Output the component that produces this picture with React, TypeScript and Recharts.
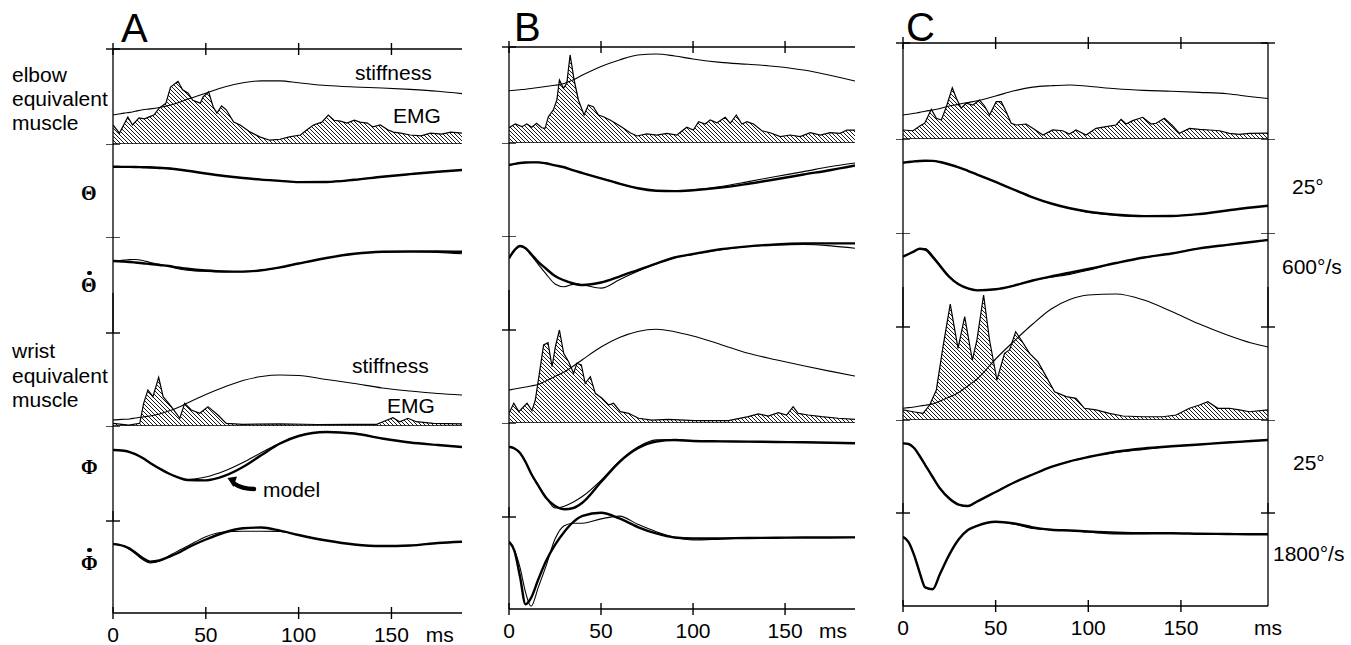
import React from "react";
import { ComposedChart, Line, Area, XAxis, YAxis, ReferenceLine } from "recharts";

const FONT = '"Liberation Sans", Arial, Helvetica, sans-serif';
const SERIF = '"Liberation Serif", "Times New Roman", serif';

// Every trace is expressed in % of its row height (100 = one scale bar:
// 25 deg for angles, 600 or 1800 deg/s for velocities, arbitrary for EMG/stiffness)

// time grid (ms) of the smooth traces
const T_AB = [0, 3, 6, 9, 12, 16, 20, 25, 30, 35, 40, 50, 60, 70, 80, 90, 100, 115, 130, 145, 160, 175, 188];
const T_C = [0, 3, 6, 9, 12, 16, 20, 25, 30, 35, 40, 50, 60, 70, 80, 90, 100, 115, 130, 145, 160, 175, 188, 197];

// ---------- A ----------
const A_ELB_STIFF = [30.5, 31.5, 32.5, 33.3, 34.5, 36, 37, 38.5, 40.5, 43.5, 47, 53.5, 60, 64.5, 66.5, 66.5, 64.5, 61.5, 60, 59, 57.5, 55.5, 53];
const A_ELB_EMG: [number, number][] = [
  [0, 20], [3.5, 11.5], [8, 28.5], [10.5, 20], [14, 27.5], [17, 26.5], [19.5, 28.5], [22, 30.5], [25, 38], [28.5, 43],
  [31, 60], [35, 66], [37.5, 57], [40.5, 53.5], [43, 46], [47, 43], [48.5, 49.5], [51.5, 55], [54, 39], [56, 32.5],
  [58.5, 40], [61, 36], [65, 23], [68.5, 20], [74, 12.5], [79, 7.5], [84.5, 4], [90, 5], [95, 7.5], [101, 9.5],
  [104.5, 15], [108, 20], [112.5, 23], [116, 30.5], [119, 25], [122.5, 24], [126, 22], [130, 25], [133, 23], [137, 22],
  [140, 18], [144, 20], [148, 15], [151, 12.5], [155, 11.5], [160, 9.5], [166, 8.5], [171, 11.5], [177, 10.5], [182, 12.5], [188, 11.5],
];
const A_TH = [75.5, 75.5, 75.4, 75.4, 75.6, 75.8, 75.6, 75, 74.2, 72.6, 71.3, 68.3, 65.6, 63.4, 61.7, 60.4, 59, 59.2, 61.5, 64.8, 67.6, 70.2, 72];
const A_TH_MODEL = [75.5, 75.5, 75.4, 75.4, 75.3, 75, 74.7, 74.2, 73.7, 72.6, 71.3, 68.3, 65.6, 63.4, 61.7, 60.4, 59, 59.2, 61.5, 64.8, 67.6, 70.2, 72];
const A_THD = [75, 75.3, 75.9, 76.4, 76.5, 75.5, 73.5, 71.5, 69.5, 67, 65.5, 64.2, 63.8, 63.9, 65.3, 68.4, 72.4, 78.1, 82.5, 84.6, 84.9, 84, 82.5];
const A_THD_MODEL = [75, 74.8, 74.5, 74, 73.4, 72.6, 71.9, 70.8, 69.8, 68.2, 66.9, 65.1, 64.1, 63.9, 65.3, 68.4, 72.4, 78.1, 82.5, 84.6, 84.9, 84.9, 84.6];
const A_WR_STIFF = [6.5, 6.9, 7.2, 7.6, 8.6, 9.7, 10.8, 12.9, 16.1, 19.9, 24.7, 33.9, 41.9, 48.9, 53.2, 54.8, 54.3, 50, 45.7, 40.9, 37.6, 34.9, 33.3];
const A_WR_EMG: [number, number][] = [
  [0, 2.9], [8.5, 1], [14.4, 2.9], [16.5, 24.4], [18.8, 38.7], [21.5, 31.5], [24.6, 52.4], [27, 31.5], [31.4, 20.8], [36, 8.3],
  [38.6, 24.4], [42.2, 17.2], [46.7, 13.7], [51.2, 20.8], [56.5, 11.8], [61, 2.9], [70, 1.8], [90, 2.2], [110, 1.6], [130, 1.8],
  [142, 1.8], [145.4, 4.6], [150.8, 8.9], [154.4, 4.6], [158.9, 8.3], [163.4, 4.6], [172.4, 2.9], [188, 2.2],
];
const A_PHI = [74.7, 74.5, 73.9, 72.6, 70.5, 66.3, 61.1, 55.3, 50, 46, 43.7, 46.3, 52.6, 61.6, 72.1, 82.1, 89.5, 93.7, 92.1, 86.8, 82.6, 80, 77.9];
const A_PHI_MODEL = [74.7, 74.5, 73.9, 72.6, 70.5, 66.3, 61.1, 55.3, 50, 46, 43.2, 42.8, 47.4, 56.8, 69.5, 81.6, 89.5, 93.7, 92.1, 86.8, 82.6, 80, 77.9];
const A_PHID = [75, 74.2, 72.5, 69, 64.5, 58, 54.5, 56.5, 62, 67.5, 72.5, 83, 88, 88.9, 88.9, 88.7, 84.8, 78.8, 74.5, 72.8, 73.4, 76.1, 77.5];
const A_PHID_MODEL = [75, 74.2, 72.8, 70, 65.8, 59.8, 55.8, 57.1, 60.9, 65.2, 70.7, 79.9, 87.5, 92.1, 92.9, 89.5, 84.8, 78.8, 74.5, 72.8, 73.4, 76.1, 77.5];

// ---------- B ----------
const B_ELB_STIFF = [54.5, 55, 55.5, 56, 56.8, 57.8, 58.9, 60.1, 62, 65.8, 70.8, 79.7, 86.5, 91.7, 92.7, 90.6, 87.5, 84, 82, 79.7, 76, 70.3, 64.6];
const B_ELB_EMG: [number, number][] = [
  [0, 15.9], [3.4, 19.8], [7, 17], [9.7, 19.8], [12.4, 16.4], [15, 20.5], [17.8, 15.9], [19.6, 15.3], [21.4, 27.4], [24.1, 34.4],
  [26, 44.8], [27.4, 65.6], [29.6, 57], [31.4, 62.2], [33.2, 91.7], [35.4, 65.6], [37.7, 44.8], [40.8, 29.2], [43.1, 39.6], [45.8, 37.8],
  [48.6, 29.2], [51.3, 27.4], [54.9, 24], [58.6, 19.8], [62.2, 15.3], [65.8, 10.7], [69.5, 7.3], [74.9, 9.4], [80.3, 8.3], [85.8, 10.1],
  [91.2, 8.3], [96.6, 16.4], [100.2, 13.5], [103, 22.2], [106.6, 19.8], [109.3, 24], [113, 21.1], [117.5, 26.8], [120.2, 20.5], [123.5, 29.2],
  [126.5, 19.8], [129.3, 22.2], [132.9, 19.8], [137.4, 12.8], [141.9, 10.7], [147.4, 6.6], [152.8, 8.3], [158.2, 6.6], [163.7, 10.7], [169.1, 8.3],
  [174.5, 10.7], [179.9, 10.1], [183.6, 13.5], [188, 13.5],
];
const B_TH = [76.3, 77.5, 78.5, 79, 79.2, 79.2, 78.2, 76, 73.9, 70.6, 67.7, 62, 56.3, 51.3, 48.7, 48.2, 49.7, 53.2, 58.5, 63.9, 69.2, 74.7, 78.5];
const B_TH_MODEL = [76.3, 77.5, 78.5, 79, 79.2, 79.2, 78.2, 76, 73.9, 70.6, 67.7, 62, 56.3, 51.3, 48.7, 48.2, 49.2, 52, 56.2, 61, 66.1, 71, 75.8];
const B_THD = [76.3, 85, 89, 86.5, 79.5, 69.5, 60, 49, 46, 48.5, 48, 44.5, 53.5, 62.5, 70.5, 77, 80.5, 85.5, 88.8, 90.5, 91, 89.5, 87];
const B_THD_MODEL = [76.3, 85, 89.4, 87, 80.9, 72.3, 65.4, 57.4, 52.7, 49.5, 47.9, 50.5, 56.9, 63.8, 70.7, 77.1, 80.9, 85.9, 89, 91, 92, 92.2, 92.2];
const B_WR_STIFF = [35.5, 36.6, 37.6, 38.7, 39.8, 41.6, 45.2, 50, 54.8, 61.3, 68.3, 81.7, 91.9, 98.4, 100.8, 98.2, 93.5, 84.5, 75, 68, 61.5, 55.5, 50.5];
const B_WR_EMG: [number, number][] = [
  [0, 10.4], [2.6, 21.2], [5.3, 12.2], [9.8, 21.2], [12.5, 13.2], [14.3, 24.7], [16.5, 53.4], [18.8, 83.9], [21.2, 86.3], [23.4, 60.5],
  [25.2, 82], [27.4, 100], [29.7, 75], [32.4, 65.9], [35.1, 53.4], [36.9, 64.2], [39.3, 62.4], [41.4, 42.7], [44.2, 49.8], [46.9, 31.9],
  [50.5, 26.6], [54.1, 19.4], [56.8, 21.2], [60.5, 12.2], [65, 10.4], [70.4, 5.1], [77.7, 3.2], [86.7, 4], [101, 2.5], [119.2, 2.5],
  [130, 6.8], [135.5, 9.7], [140.9, 7.5], [146.3, 11.1], [150.8, 8.6], [154.4, 17.5], [157.1, 10.4], [162.6, 8.6], [169.8, 6.8], [178.9, 5.1], [188, 4],
];
const B_PHI = [74.8, 72.9, 68.1, 58.5, 46.3, 33.5, 21.5, 9.5, 11.5, 16, 22, 39, 59.5, 74.5, 82, 82.3, 81, 80.5, 80.2, 79.8, 79.5, 79, 78.4];
const B_PHI_MODEL = [74.8, 72.9, 68.1, 58.5, 46.3, 33, 20.7, 11.7, 8.2, 9.6, 15.4, 37.2, 58.5, 73.1, 80.3, 81.9, 80.9, 80.5, 80.2, 79.8, 79.5, 79, 78.4];
const B_PHID = [73.2, 63.5, 45, 18, 3, 24, 46, 76, 90.5, 93.2, 93.2, 98, 101, 92, 84, 78, 75, 76, 77.2, 77.4, 77.7, 77.7, 77.9];
const B_PHID_MODEL = [73.2, 63, 35, 5, 12, 32.6, 51.6, 69.6, 83.7, 94.6, 101.1, 104.6, 98.4, 89.1, 82.1, 77.7, 76.6, 76.8, 77.2, 77.4, 77.7, 77.7, 77.9];

// ---------- C ----------
const C_ELB_STIFF = [25, 25.8, 26.8, 27.7, 28.9, 30.2, 31.8, 34.4, 36.1, 38, 39.8, 44.8, 50.2, 54, 55.5, 56.3, 54.9, 52.3, 50.7, 49.8, 48.6, 47.1, 44, 42.2];
const C_ELB_EMG: [number, number][] = [
  [0, 9.4], [5.4, 8.6], [9.9, 14.6], [11.7, 16.4], [15.3, 30.9], [18, 21.6], [20.7, 19.8], [23.4, 33.6], [26.6, 53.4], [28.8, 42.4],
  [31.4, 32], [34.1, 37.2], [37.7, 35.4], [41.3, 40.6], [44, 34.4], [46.7, 25], [50.3, 38.9], [53, 38.9], [55.7, 28.4], [58.4, 16.4],
  [61.1, 14.6], [66.5, 15.6], [70, 11.1], [75.5, 4.2], [80.8, 9.4], [86.2, 8.6], [89.8, 5.2], [93.4, 9.4], [98.8, 4.2], [104.2, 11.1],
  [109.6, 12.8], [115, 14.6], [117.7, 20.5], [120.4, 15.6], [124, 19.1], [129.4, 22.6], [133.9, 15.6], [136.6, 16.4], [141.1, 21.6], [145.6, 13.5],
  [149.2, 5.9], [154.6, 11.1], [160, 10.1], [165.4, 9.4], [170.8, 8.6], [176.1, 5.9], [181.5, 4.9], [187, 5.9], [197, 6.2],
];
const C_TH = [74.8, 75.5, 76.2, 76.6, 76.8, 76.7, 75.5, 72.9, 69.9, 66.2, 62.2, 54.3, 46, 38, 31.4, 26.3, 22, 18.8, 17.5, 18.1, 20.2, 23.9, 27.1, 29];
const C_TH_MODEL = [74.8, 75.5, 76.2, 76.6, 76.8, 76.7, 75.5, 72.9, 69.9, 66.2, 62.2, 54.3, 46, 38, 31.4, 26.3, 22.6, 19.4, 17.9, 18.1, 20.2, 23.9, 27.1, 29];
const C_THD = [74.8, 77.5, 80.5, 83.5, 83.5, 76, 66, 54, 45.5, 41, 39, 40.1, 44.1, 49.5, 53, 56, 60.5, 68.1, 73.9, 78.2, 83.7, 87.4, 90.4, 92.6];
const C_THD_MODEL = [74.8, 77.7, 80.5, 83.2, 82.4, 74.5, 64.9, 53.2, 45.4, 41, 39, 40.1, 44.1, 49.5, 53.9, 57.7, 61.7, 68.1, 73.9, 78.2, 83.7, 87.4, 90.4, 92.6];
const C_WR_STIFF = [12.6, 13.3, 14, 15, 15.9, 17.2, 20.4, 24.7, 29.6, 36.6, 44.1, 65.6, 84.9, 103.2, 119.4, 129.6, 134.4, 135.5, 129, 116.7, 103.2, 91.4, 82.8, 78.5];
const C_WR_EMG: [number, number][] = [
  [0, 10.8], [5.4, 8.9], [10.8, 7.2], [14.4, 16.1], [18, 32.3], [21.6, 78.8], [25.5, 124.7], [29.7, 77.1], [33.3, 111.1], [37.4, 64.5],
  [39.9, 86], [43.5, 134.4], [46.7, 86], [50.7, 43], [54.8, 71.7], [57.5, 75.3], [60.8, 94.9], [63.8, 86], [68.3, 71.7], [72.8, 62.7],
  [77.3, 46.6], [81.8, 30.4], [88.1, 25.1], [93.4, 23.3], [97.9, 12.6], [104.2, 10.8], [111.4, 7.2], [118.6, 4.3], [129.4, 3.5], [140.2, 3.5],
  [147.4, 5.4], [154.6, 12.6], [160, 16.1], [164.5, 19.7], [169.9, 12.6], [176.1, 12.6], [181.5, 10.8], [187, 8.9], [197, 10.8],
];
const C_PHI = [74.9, 74.2, 69.9, 61.3, 51.6, 38.7, 26.3, 15.6, 9.1, 7.5, 12.4, 22.6, 32.8, 41.4, 49.5, 55.6, 60.2, 65, 68.4, 71.7, 73.7, 75.8, 77.4, 78.5];
const C_PHI_MODEL = [74.9, 74.2, 69.9, 61.3, 51.6, 38.7, 26.3, 15.6, 9.1, 7.5, 12.4, 22.6, 32.8, 41.4, 49.5, 55.6, 60.2, 65.9, 69.4, 71.7, 73.7, 75.8, 77.4, 78.5];
const C_PHID = [74.5, 68.8, 54.8, 36, 20, 18, 34.7, 55.3, 71.5, 81.7, 86.2, 90.6, 88, 83.5, 82, 81.2, 79.5, 77.5, 77.8, 78.2, 77.7, 77.4, 77.1, 77.1];
const C_PHID_MODEL = [74.5, 68.8, 54.8, 36, 20, 18, 34.7, 55.3, 71.5, 81.7, 86.2, 90.6, 88.7, 84.6, 82, 81.2, 80.1, 78.8, 78.2, 78.2, 77.7, 77.4, 77.1, 77.1];

const TIME_TICKS = [0, 50, 100, 150];
// extra headroom (px) above a row, for traces that run into the row above
const PAD_TOP = [0, 0, 0, 40, 0, 10];

// merge the smooth columns and the EMG samples into one table sorted by time
function buildTable(times: number[], cols: Record<string, number[]>, emg?: [number, number][]) {
  const map = new Map<number, any>();
  times.forEach((t, i) => {
    const row = map.get(t) ?? { t };
    for (const k in cols) row[k] = cols[k][i];
    map.set(t, row);
  });
  (emg ?? []).forEach(([t, v]) => {
    const row = map.get(t) ?? { t };
    row.emg = v;
    map.set(t, row);
  });
  return [...map.values()].sort((a, b) => a.t - b.t);
}

const PANELS = [
  {
    id: "A", x0: 113, pxPerMs: 1.857, tMax: 188, msAt: 176, right: false,
    bounds: [49, 144, 237, 333, 426, 521, 613], letter: [121, 8],
    rows: [
      buildTable(T_AB, { stiff: A_ELB_STIFF }, A_ELB_EMG),
      buildTable(T_AB, { meas: A_TH, model: A_TH_MODEL }),
      buildTable(T_AB, { meas: A_THD, model: A_THD_MODEL }),
      buildTable(T_AB, { stiff: A_WR_STIFF }, A_WR_EMG),
      buildTable(T_AB, { meas: A_PHI, model: A_PHI_MODEL }),
      buildTable(T_AB, { meas: A_PHID, model: A_PHID_MODEL }),
    ],
  },
  {
    id: "B", x0: 509, pxPerMs: 1.84, tMax: 188, msAt: 176, right: false,
    bounds: [47, 143, 236, 330, 423, 517, 609], letter: [514, 7],
    rows: [
      buildTable(T_AB, { stiff: B_ELB_STIFF }, B_ELB_EMG),
      buildTable(T_AB, { meas: B_TH, model: B_TH_MODEL }),
      buildTable(T_AB, { meas: B_THD, model: B_THD_MODEL }),
      buildTable(T_AB, { stiff: B_WR_STIFF }, B_WR_EMG),
      buildTable(T_AB, { meas: B_PHI, model: B_PHI_MODEL }),
      buildTable(T_AB, { meas: B_PHID, model: B_PHID_MODEL }),
    ],
  },
  {
    id: "C", x0: 903, pxPerMs: 1.855, tMax: 197, msAt: 197, right: true,
    bounds: [43, 139, 233, 327, 420, 513, 606], letter: [906, 7],
    rows: [
      buildTable(T_C, { stiff: C_ELB_STIFF }, C_ELB_EMG),
      buildTable(T_C, { meas: C_TH, model: C_TH_MODEL }),
      buildTable(T_C, { meas: C_THD, model: C_THD_MODEL }),
      buildTable(T_C, { stiff: C_WR_STIFF }, C_WR_EMG),
      buildTable(T_C, { meas: C_PHI, model: C_PHI_MODEL }),
      buildTable(T_C, { meas: C_PHID, model: C_PHID_MODEL }),
    ],
  },
];

const CrossTickY = (props: any) => {
  const { x, y } = props;
  return <line x1={x - 7} x2={x + 7} y1={y} y2={y} stroke="#000" strokeWidth={1.4} />;
};

const TimeTick = (props: any) => {
  const { x, y, payload, bottom, msAt } = props;
  const v = payload.value;
  const label = (s: string) => (
    <text x={x} y={y + 29} textAnchor="middle" fontSize={21} fontFamily={FONT} fill="#000">{s}</text>
  );
  if (bottom && v === msAt) return label("ms");
  return (
    <g>
      <line x1={x} x2={x} y1={y - 6} y2={y + 6} stroke="#000" strokeWidth={1.4} />
      {bottom && label(String(v))}
    </g>
  );
};

function TraceRow({ panel, index }: { panel: any; index: number }) {
  const { bounds, x0, pxPerMs, tMax, msAt, right, id } = panel;
  const top = bounds[index];
  const h = bounds[index + 1] - top;
  const pad = PAD_TOP[index];
  const first = index === 0;
  const last = index === 5;
  const emgRow = index === 0 || index === 3;
  const extraTop = first ? 13 : 0;
  const extraBottom = last ? 36 : 0;
  const plotW = Math.round(tMax * pxPerMs);
  const yMax = 100 + (pad / h) * 100;
  const hatch = `hatch-${id}-${index}`;
  const axisLine = { stroke: "#000", strokeWidth: 1.3 };

  return (
    <div style={{ position: "absolute", left: x0 - 12, top: top - pad - extraTop }}>
      <ComposedChart
        width={plotW + 32 + (right ? 1 : 0)}
        height={h + pad + extraTop + extraBottom}
        data={panel.rows[index]}
        margin={{ top: first ? 12 : 0, right: 20, bottom: 0, left: 11 }}
      >
        <defs>
          <pattern id={hatch} width={4} height={4} patternUnits="userSpaceOnUse">
            <path d="M-1,-1 L5,5 M-1,3 L1,5 M3,-1 L5,1" stroke="#000" strokeWidth={0.9} />
          </pattern>
        </defs>
        <XAxis
          type="number"
          dataKey="t"
          domain={[0, tMax]}
          allowDataOverflow
          hide={!first && !last}
          orientation={first ? "top" : "bottom"}
          height={first ? 1 : last ? extraBottom : 0}
          ticks={last ? [...TIME_TICKS, msAt] : TIME_TICKS}
          interval={0}
          tickLine={false}
          tickSize={0}
          tickMargin={0}
          axisLine={axisLine}
          tick={(p: any) => <TimeTick {...p} bottom={last} msAt={msAt} />}
        />
        <YAxis
          type="number"
          domain={[0, yMax]}
          allowDataOverflow
          width={1}
          ticks={[100]}
          interval={0}
          tickLine={false}
          tickSize={0}
          tickMargin={0}
          axisLine={axisLine}
          tick={CrossTickY}
        />
        {right && (
          <YAxis
            yAxisId="R"
            orientation="right"
            type="number"
            domain={[0, yMax]}
            allowDataOverflow
            width={1}
            ticks={[100]}
            interval={0}
            tickLine={false}
            tickSize={0}
            tickMargin={0}
            axisLine={axisLine}
            tick={CrossTickY}
          />
        )}
        {emgRow && <ReferenceLine y={0} stroke="#000" strokeWidth={1.3} />}
        {emgRow && (
          <Area
            dataKey="emg"
            type="linear"
            stroke="#000"
            strokeWidth={1.2}
            fill={`url(#${hatch})`}
            fillOpacity={1}
            baseValue={0}
            connectNulls
            dot={false}
            activeDot={false}
            isAnimationActive={false}
          />
        )}
        {emgRow && (
          <Line dataKey="stiff" type="monotone" stroke="#000" strokeWidth={1.1} dot={false} activeDot={false} connectNulls isAnimationActive={false} />
        )}
        {!emgRow && (
          <Line dataKey="meas" type="monotone" stroke="#000" strokeWidth={1.1} dot={false} activeDot={false} connectNulls isAnimationActive={false} />
        )}
        {!emgRow && (
          <Line dataKey="model" type="monotone" stroke="#000" strokeWidth={2.4} dot={false} activeDot={false} connectNulls isAnimationActive={false} />
        )}
      </ComposedChart>
    </div>
  );
}

const Txt = ({ x, y, size = 21, family = FONT, weight = 400, children }: any) => (
  <div
    style={{
      position: "absolute", left: x, top: y, fontFamily: family, fontSize: size, fontWeight: weight,
      lineHeight: 1, whiteSpace: "nowrap", color: "#000",
    }}
  >
    {children}
  </div>
);

const Dot = ({ x, y }: any) => (
  <div style={{ position: "absolute", left: x - 2.2, top: y - 2.2, width: 4.4, height: 4.4, borderRadius: "50%", background: "#000" }} />
);

export default function App() {
  return (
    <div style={{ position: "absolute", left: 0, top: 0, width: 1351, height: 645, background: "#fff", overflow: "hidden" }}>
      {PANELS.map((p) => [0, 1, 2, 3, 4, 5].map((i) => <TraceRow key={p.id + i} panel={p} index={i} />))}

      {PANELS.map((p) => (
        <Txt key={p.id} x={p.letter[0]} y={p.letter[1]} size={40}>{p.id}</Txt>
      ))}

      <Txt x={12} y={64}>elbow</Txt>
      <Txt x={12} y={88}>equivalent</Txt>
      <Txt x={12} y={112}>muscle</Txt>
      <Txt x={12} y={340}>wrist</Txt>
      <Txt x={12} y={365}>equivalent</Txt>
      <Txt x={12} y={389}>muscle</Txt>

      <Txt x={81} y={183} size={20} family={SERIF} weight={700}>Θ</Txt>
      <Txt x={81} y={275} size={20} family={SERIF} weight={700}>Θ</Txt>
      <Dot x={89.5} y={273} />
      <Txt x={81} y={457} size={20} family={SERIF} weight={700}>Φ</Txt>
      <Txt x={81} y={553} size={20} family={SERIF} weight={700}>Φ</Txt>
      <Dot x={89.5} y={550} />

      <Txt x={355} y={62}>stiffness</Txt>
      <Txt x={393} y={105}>EMG</Txt>
      <Txt x={352} y={355}>stiffness</Txt>
      <Txt x={387} y={395}>EMG</Txt>
      <Txt x={263} y={479}>model</Txt>

      <Txt x={1292} y={176}>25°</Txt>
      <Txt x={1282} y={256}>600°/s</Txt>
      <Txt x={1293} y={452}>25°</Txt>
      <Txt x={1273} y={543}>1800°/s</Txt>

      <svg width={1351} height={645} style={{ position: "absolute", left: 0, top: 0, pointerEvents: "none" }}>
        <path d="M254,489 Q242,489 234,483.5" stroke="#000" strokeWidth={4.5} fill="none" strokeLinecap="round" />
        <polygon points="227.5,478 233.5,487 237,476.5" fill="#000" />
      </svg>
    </div>
  );
}
